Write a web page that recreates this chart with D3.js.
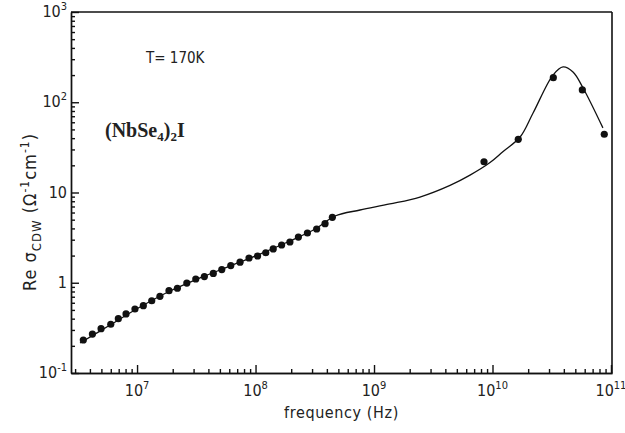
<!DOCTYPE html>
<html>
<head>
<meta charset="utf-8">
<script src="https://cdn.jsdelivr.net/npm/d3@7"></script>
<style>
  body { margin: 0; background: #fff; }
  text { fill: #222; }
</style>
</head>
<body>
<div id="chart-area"></div>
<script>
// measured points, Re sigma_CDW vs frequency
var freqData = [3.52e6, 4.20e6, 4.97e6, 6.0e6, 6.95e6, 8.07e6, 9.6e6, 1.13e7, 1.33e7, 1.56e7,
	1.86e7, 2.19e7, 2.63e7, 3.13e7, 3.70e7, 4.40e7, 5.19e7, 6.18e7, 7.40e7, 8.81e7,
	1.04e8, 1.22e8, 1.41e8, 1.66e8, 1.95e8, 2.30e8, 2.74e8, 3.28e8, 3.86e8, 4.45e8,
	8.48e9, 1.65e10, 3.26e10, 5.73e10, 8.78e10];
var sigmaData = [0.232, 0.270, 0.310, 0.347, 0.400, 0.451, 0.512, 0.557, 0.632, 0.708,
	0.817, 0.869, 0.993, 1.10, 1.17, 1.27, 1.40, 1.55, 1.69, 1.88,
	1.98, 2.15, 2.37, 2.62, 2.83, 3.21, 3.56, 3.94, 4.51, 5.31,
	21.9, 38.8, 187, 137, 44.2];

// fitted curve
var curveFreq = [3.30e6, 5.92e6, 1.06e7, 1.90e7, 3.40e7, 6.09e7, 1.09e8, 1.95e8, 3.18e8, 4.69e8,
	7.62e8, 1.36e9, 2.44e9, 4.38e9, 6.46e9, 9.53e9, 1.23e10, 1.71e10, 2.20e10,
	3.24e10, 3.94e10, 4.78e10, 5.81e10, 8.55e10];
var curveSigma = [0.215, 0.340, 0.538, 0.81, 1.13, 1.53, 2.08, 2.90, 3.94, 5.49,
	6.40, 7.46, 8.91, 12.0, 15.6, 21.5, 28.5, 41.2, 76.0,
	200, 246, 216, 144, 52.0];

var xTicks = [1e7, 1e8, 1e9, 1e10, 1e11];
var xTickExp = ["7", "8", "9", "10", "11"];
var yTicks = [0.1, 1, 10, 100, 1000];
var yTickBase = ["10", "1", "10", "10", "10"];
var yTickExp = ["-1", "", "", "2", "3"];

var width = 625, height = 433;
var plot = {left: 71, right: 612, top: 12, bottom: 373};
var font = "'Liberation Sans Narrow', 'DejaVu Sans Condensed', sans-serif";

var svg = d3.select("#chart-area").append("svg")
	.attr("width", width)
	.attr("height", height);

var xScale = d3.scaleLog().domain([2.77e6, 1.02e11]).range([plot.left, plot.right]);
var yScale = d3.scaleLog().domain([0.1, 1000]).range([plot.bottom, plot.top]);

// minor tick values inside the domains
function minorTicks(scale) {
	var d = scale.domain(), out = [];
	for (var e = Math.floor(Math.log10(d[0])); e <= Math.ceil(Math.log10(d[1])); e++) {
		for (var m = 1; m < 10; m++) {
			var v = m * Math.pow(10, e);
			if (v >= d[0] && v <= d[1]) out.push(v);
		}
	}
	return out;
}

var xMinor = minorTicks(xScale).filter(v => xTicks.indexOf(v) < 0);
var yMinor = minorTicks(yScale).filter(v => yTicks.indexOf(v) < 0);

// bottom and left axes, ticks pointing inward
var xAxis = d3.axisBottom(xScale).tickValues(xTicks).tickSizeInner(-8).tickSizeOuter(0).tickFormat("");
var xAxisMinor = d3.axisBottom(xScale).tickValues(xMinor).tickSizeInner(-4).tickSizeOuter(0).tickFormat("");
svg.append("g").attr("transform", "translate(0," + plot.bottom + ")").call(xAxis);
svg.append("g").attr("transform", "translate(0," + plot.bottom + ")").call(xAxisMinor);

var yAxis = d3.axisLeft(yScale).tickValues(yTicks).tickSizeInner(-8).tickSizeOuter(0).tickFormat("");
var yAxisMinor = d3.axisLeft(yScale).tickValues(yMinor).tickSizeInner(-4).tickSizeOuter(0).tickFormat("");
svg.append("g").attr("transform", "translate(" + plot.left + ",0)").call(yAxis);
svg.append("g").attr("transform", "translate(" + plot.left + ",0)").call(yAxisMinor);

svg.selectAll(".domain, .tick line").attr("stroke", "#111").attr("stroke-width", 1.4);

// frame top and right
svg.append("line").attr("x1", plot.left).attr("x2", plot.right).attr("y1", plot.top).attr("y2", plot.top)
	.attr("stroke", "#111").attr("stroke-width", 1.4);
svg.append("line").attr("x1", plot.right).attr("x2", plot.right).attr("y1", plot.top).attr("y2", plot.bottom)
	.attr("stroke", "#111").attr("stroke-width", 1.6);

// tick labels with superscripts
xTicks.forEach((t, i) => {
	var lbl = svg.append("text")
		.attr("x", xScale(t))
		.attr("y", plot.bottom + 23)
		.attr("text-anchor", "middle")
		.attr("font-family", font)
		.attr("font-size", "16px");
	lbl.append("tspan").text("10");
	lbl.append("tspan").attr("dy", -7).attr("font-size", "11px").text(xTickExp[i]);
});

yTicks.forEach((t, i) => {
	var lbl = svg.append("text")
		.attr("x", plot.left - 4)
		.attr("y", yScale(t) + 5)
		.attr("text-anchor", "end")
		.attr("font-family", font)
		.attr("font-size", "16px");
	lbl.append("tspan").text(yTickBase[i]);
	if (yTickExp[i] != "") {
		lbl.append("tspan").attr("dy", -7).attr("font-size", "11px").text(yTickExp[i]);
	}
});

// axis titles
svg.append("text")
	.attr("x", (plot.left + plot.right) / 2)
	.attr("y", 418)
	.attr("text-anchor", "middle")
	.attr("font-family", font)
	.attr("font-size", "16px")
	.attr("letter-spacing", "0.6px")
	.text("frequency (Hz)");

var yLabel = svg.append("text")
	.attr("transform", "translate(36,212) rotate(-90)")
	.attr("text-anchor", "middle")
	.attr("font-family", font)
	.attr("font-size", "18px")
	.attr("letter-spacing", "1px");
yLabel.append("tspan").text("Re σ");
yLabel.append("tspan").attr("dy", 5).attr("font-size", "13px").text("CDW");
yLabel.append("tspan").attr("dy", -5).text(" (Ω");
yLabel.append("tspan").attr("dy", -7).attr("font-size", "12px").text("-1");
yLabel.append("tspan").attr("dy", 7).text("cm");
yLabel.append("tspan").attr("dy", -7).attr("font-size", "12px").text("-1");
yLabel.append("tspan").attr("dy", 7).text(")");

// annotations
svg.append("text")
	.attr("x", 146).attr("y", 63)
	.attr("font-family", font)
	.attr("font-size", "15px")
	.text("T= 170K");

var comp = svg.append("text")
	.attr("x", 105).attr("y", 137)
	.attr("font-family", "'Liberation Serif', 'DejaVu Serif', serif")
	.attr("font-weight", "bold")
	.attr("font-size", "20px");
comp.append("tspan").text("(NbSe");
comp.append("tspan").attr("dy", 4).attr("font-size", "13px").text("4");
comp.append("tspan").attr("dy", -4).text(")");
comp.append("tspan").attr("dy", 4).attr("font-size", "13px").text("2");
comp.append("tspan").attr("dy", -4).text("I");

// fitted line
var line = d3.line()
	.x((d, i) => xScale(curveFreq[i]))
	.y((d, i) => yScale(curveSigma[i]))
	.curve(d3.curveCatmullRom);

svg.append("path")
	.datum(curveFreq)
	.attr("d", line)
	.attr("fill", "none")
	.attr("stroke", "#111")
	.attr("stroke-width", 1.3);

// data points
svg.selectAll("circle")
	.data(freqData)
	.enter().append("circle")
	.attr("cx", (d) => xScale(d))
	.attr("cy", (d, i) => yScale(sigmaData[i]))
	.attr("r", 3.6)
	.attr("fill", "#111");
</script>
</body>
</html>
